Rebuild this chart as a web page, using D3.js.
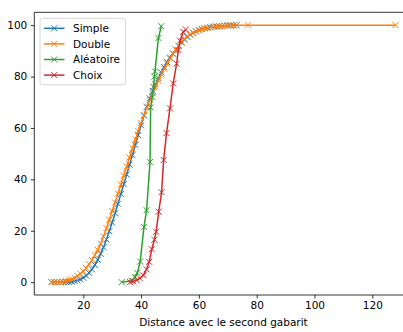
<!DOCTYPE html>
<html><head><meta charset="utf-8">
<script src="https://cdn.jsdelivr.net/npm/d3@7"></script>
<style>body{margin:0;background:#fff;}svg{display:block;font-family:"DejaVu Sans",sans-serif;}</style>
</head><body>
<script>
const seriesNames = ["Simple","Double","Aléatoire","Choix"];
const colors = ["#1f77b4","#ff7f0e","#2ca02c","#d62728"];
const simpleX = [9,10,11,12,13,14,15,16,17,18,19,20,21,22,23,24,25,26,27,28,29,30,31,32,33,34,35,36,37,38,39,40,41,42,43,44,45,46,47,48,49,50,51,52,53,54,55,56,57,58,59,60,61,62,63,64,65,66,67,68,69,70,71,72,73];
const simpleY = [0,0,0,0,0,0,0,0.2,0.4,0.7,1.1,1.7,2.5,3.6,5,6.7,8.7,11,13.6,16.6,19.8,23.2,26.8,30.5,34.3,38.1,41.9,45.7,49.4,53.3,57.2,61,64.8,68.3,71.5,74.4,77,79.4,81.6,83.7,85.6,87.4,89,90.5,91.9,93.2,94.4,95.4,96.3,97,97.6,98.1,98.5,98.8,99,99.2,99.4,99.5,99.6,99.7,99.8,99.85,99.9,99.95,100];
const doubleX = [9,10,11,12,13,14,15,16,17,18,19,20,21,22,23,24,25,26,27,28,29,30,31,32,33,34,35,36,37,38,39,40,41,42,43,44,45,46,47,48,49,50,51,52,53,54,55,56,57,58,59,60,61,62,63,64,65,66,67,68,69,70,71,72,73,77,128];
const doubleY = [0,0,0,0,0.2,0.4,0.7,1.1,1.7,2.4,3.3,4.3,5.5,7,8.6,10.5,12.6,15,17.8,21,24.3,27.7,31,34.5,38,41.5,45,48.5,52,55.5,58.8,62,65,68,70.8,73.5,76,78.5,80.8,83,85,87,88.8,90.5,92,93.4,94.6,95.6,96.4,97.1,97.6,98,98.4,98.7,98.9,99.1,99.3,99.4,99.5,99.6,99.7,99.8,99.85,99.9,99.92,99.96,100];
const aleaX = [33.3,36.7,37.9,38.7,39.7,41,41.9,43.1,43.3,43.9,44.3,44.6,44.8,46,47];
const aleaY = [0,0.5,2,3.6,8,21.5,28,46.8,68,72,76,80,82,95,99.6];
const choixX = [36.2,37.3,38.5,39.6,40.8,41.9,42.8,43.7,44.6,45.2,46.1,47.1,47.8,48.8,50,51.1,52.3,52.9,53.5,54.6,55.5];
const choixY = [0,0.3,0.8,1.5,2.7,5,7.9,12.8,16.5,19.6,27.4,35,47.5,58,67.6,77.3,85,90.3,94,97.4,98.3];
const xTicks = [20,40,60,80,100,120];
const yTicks = [0,20,40,60,80,100];
const xLabel = "Distance avec le second gabarit";

const seriesX = [simpleX, doubleX, aleaX, choixX];
const seriesY = [simpleY, doubleY, aleaY, choixY];

const W = 403, H = 332, FS = 10.5;
const L = 34.3, R = 412.6, T = 12.3, B = 295;
const svg = d3.select("body").append("svg").attr("width", W).attr("height", H);
const x = d3.scaleLinear().domain([3.05, 133.95]).range([L, R]);
const y = d3.scaleLinear().domain([-5, 105]).range([B, T]);

svg.append("defs").append("clipPath").attr("id","clip").append("rect")
  .attr("x", L).attr("y", T).attr("width", R - L).attr("height", B - T);

const plot = svg.append("g").attr("clip-path","url(#clip)");
const line = d3.line().x(d => x(d[0])).y(d => y(d[1]));
seriesNames.forEach((name, i) => {
  const pts = seriesX[i].map((v, j) => [v, seriesY[i][j]]);
  const g = plot.append("g");
  g.append("path").attr("d", line(pts)).attr("fill","none").attr("stroke", colors[i]).attr("stroke-width", 1.5);
  g.selectAll("path.m").data(pts).enter().append("path").attr("class","m")
    .attr("d", d => { const cx = x(d[0]), cy = y(d[1]), s = 3; return `M${cx-s},${cy-s}L${cx+s},${cy+s}M${cx-s},${cy+s}L${cx+s},${cy-s}`; })
    .attr("stroke", colors[i]).attr("stroke-width", 1).attr("fill","none");
});

const xAxis = d3.axisBottom(x).tickValues(xTicks).tickSize(3.5).tickPadding(3.5).tickFormat(d3.format("d"));
const yAxis = d3.axisLeft(y).tickValues(yTicks).tickSize(3.5).tickPadding(3.5).tickFormat(d3.format("d"));
const gx = svg.append("g").attr("transform", `translate(0,${B})`).call(xAxis);
const gy = svg.append("g").attr("transform", `translate(${L},0)`).call(yAxis);
[gx, gy].forEach(g => {
  g.select(".domain").remove();
  g.selectAll("text").attr("font-size", FS).attr("font-family","DejaVu Sans").attr("fill","#000");
  g.selectAll("line").attr("stroke","#000").attr("stroke-width",0.8);
});
svg.append("line").attr("x1",L).attr("x2",R).attr("y1",B).attr("y2",B).attr("stroke","#000").attr("stroke-width",0.8);
svg.append("line").attr("x1",L).attr("x2",R).attr("y1",T).attr("y2",T).attr("stroke","#000").attr("stroke-width",0.8);
svg.append("line").attr("x1",L).attr("x2",L).attr("y1",T).attr("y2",B).attr("stroke","#000").attr("stroke-width",0.8);
svg.append("line").attr("x1",R).attr("x2",R).attr("y1",T).attr("y2",B).attr("stroke","#000").attr("stroke-width",0.8);

svg.append("text").attr("x", (L + R) / 2).attr("y", 326).attr("text-anchor","middle")
  .attr("font-size", FS).attr("font-family","DejaVu Sans").text(xLabel);

const lg = svg.append("g");
lg.append("rect").attr("x", 40).attr("y", 18.3).attr("width", 85.5).attr("height", 66.5).attr("rx", 2.5)
  .attr("fill","#fff").attr("fill-opacity",0.8).attr("stroke","#ccc").attr("stroke-width",0.8);
seriesNames.forEach((name, i) => {
  const yy = 28.3 + i * 15.6;
  lg.append("line").attr("x1", 44).attr("x2", 64.5).attr("y1", yy).attr("y2", yy).attr("stroke", colors[i]).attr("stroke-width", 1.5);
  const cx = 54.2, s = 3;
  lg.append("path").attr("d", `M${cx-s},${yy-s}L${cx+s},${yy+s}M${cx-s},${yy+s}L${cx+s},${yy-s}`).attr("stroke", colors[i]).attr("stroke-width", 1);
  lg.append("text").attr("x", 73).attr("y", yy).attr("dy","0.35em").attr("font-size",FS).attr("font-family","DejaVu Sans").text(name);
});
</script>
</body></html>
